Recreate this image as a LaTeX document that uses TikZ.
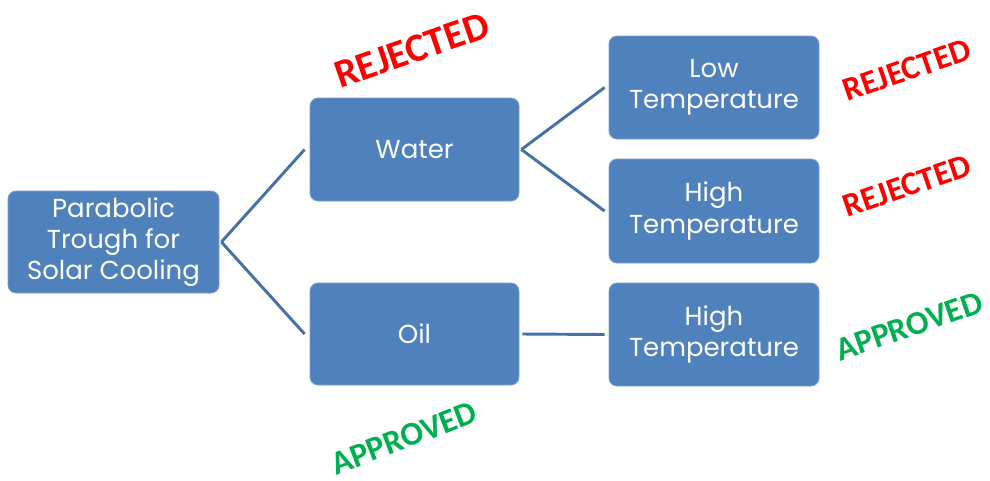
\documentclass[tikz,border=0pt]{standalone}
\usepackage{fontspec}
\setmainfont{Poppins}
\newfontfamily\stampfont{Carlito}
\usetikzlibrary{calc}
\definecolor{boxblue}{HTML}{4F81BD}
\definecolor{boxedge}{HTML}{7C9ED0}
\definecolor{linkblue}{HTML}{4471A6}
\definecolor{rejred}{HTML}{FF0000}
\definecolor{appgreen}{HTML}{00B050}
\tikzset{
  box/.style={draw=boxedge, line width=0.6pt, fill=boxblue, rounded corners=6pt,
    text=white, align=center, inner sep=0pt, font=\fontsize{19.5}{23.5}\selectfont},
  link/.style={draw=linkblue, line width=2.2pt},
  stamp/.style={font=\stampfont\bfseries\fontsize{25}{25}\selectfont, rotate=19, inner sep=0pt}
}
\begin{document}
\begin{tikzpicture}[x=0.75pt,y=-0.75pt]
\useasboundingbox (0,0) rectangle (990,480);
\node[box, minimum width=211*0.75pt, minimum height=102*0.75pt] (root) at (113.5,242) {Parabolic\\Trough for\\Solar Cooling};
\node[box, minimum width=209*0.75pt, minimum height=103*0.75pt] (water) at (414.5,149.5) {Water};
\node[box, minimum width=209*0.75pt, minimum height=102*0.75pt] (oil) at (414.5,334) {Oil};
\node[box, minimum width=210*0.75pt, minimum height=103*0.75pt] (low) at (714,87.5) {Low\\Temperature};
\node[box, minimum width=210*0.75pt, minimum height=104*0.75pt] (high1) at (714,211) {High\\Temperature};
\node[box, minimum width=210*0.75pt, minimum height=103*0.75pt] (high2) at (714,334.5) {High\\Temperature};
\draw[link] ($(root.east)+(2,0)$) -- ($(water.west)+(-5,0)$);
\draw[link] ($(root.east)+(2,0)$) -- ($(oil.west)+(-5,0)$);
\draw[link] ($(water.east)+(2,0)$) -- ($(low.west)+(-4,0)$);
\draw[link] ($(water.east)+(2,0)$) -- ($(high1.west)+(-4,0)$);
\draw[link] ($(oil.east)+(3,0)$) -- ($(high2.west)+(-4,0)$);
\node[stamp, text=rejred, font=\stampfont\bfseries\fontsize{30}{30}\selectfont] (rej0) at (412,50) {REJECTED};
\node[stamp, text=rejred] (rej1) at (907,70) {REJECTED};
\node[stamp, text=rejred] (rej2) at (907,186) {REJECTED};
\node[stamp, text=appgreen] (app1) at (909,326) {APPROVED};
\node[stamp, text=appgreen, rotate=2] (app0) at (404,438) {APPROVED};
\end{tikzpicture}
\end{document}
